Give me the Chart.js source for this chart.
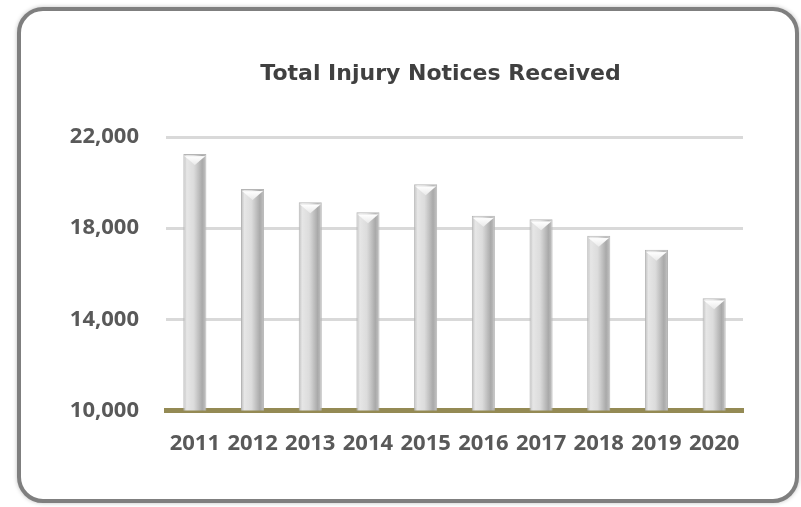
<!DOCTYPE html>
<html lang="en">
<head>
    <meta charset="UTF-8">
    <title>Total Injury Notices Received</title>
    <script src="https://cdn.jsdelivr.net/npm/chart.js"></script>
    <style>
        body {
            margin: 0;
            background: #fff;
        }
        .frame {
            position: absolute;
            left: 17px;
            top: 7px;
            width: 782px;
            height: 496px;
            box-sizing: border-box;
            border: 4px solid #7f7f7f;
            border-radius: 26px;
            box-shadow: 0 0 4px rgba(0, 0, 0, 0.25);
            background: #fff;
        }
        canvas {
            display: block;
        }
    </style>
</head>
<body>
    <div class="frame">
        <canvas id="injuryChart" width="774" height="488"></canvas>
    </div>

    <script>
        // values
        const years = ['2011', '2012', '2013', '2014', '2015', '2016', '2017', '2018', '2019', '2020'];
        const notices = [21250, 19720, 19140, 18700, 19930, 18550, 18390, 17670, 17050, 14930];
        const yMin = 10000;
        const yMax = 22000;
        const yStep = 4000;
        const chartTitle = 'Total Injury Notices Received';

        const tickFont = { family: '"Open Sans", sans-serif', size: 22, weight: 'bold' };

        // silver cylinder look for each bar
        function barFill(c) {
            const chart = c.chart;
            if (!chart.chartArea || !chart.scales.x) return '#d0d0d0';
            const xs = chart.scales.x;
            const cx = xs.getPixelForValue(c.dataIndex);
            const w = xs.width / years.length * 0.4;
            const g = chart.ctx.createLinearGradient(cx - w / 2, 0, cx + w / 2, 0);
            g.addColorStop(0, '#bdbdbd');
            g.addColorStop(0.15, '#e6e6e6');
            g.addColorStop(0.45, '#dcdcdc');
            g.addColorStop(0.55, '#cfcfcf');
            g.addColorStop(0.82, '#a9a9a9');
            g.addColorStop(1, '#c4c4c4');
            return g;
        }

        // bevel triangles at top and bottom of the bars
        const bevelPlugin = {
            id: 'bevel',
            afterDatasetsDraw(chart) {
                const ctx = chart.ctx;
                chart.getDatasetMeta(0).data.forEach(bar => {
                    const l = bar.x - bar.width / 2;
                    const r = bar.x + bar.width / 2;
                    const top = bar.y;
                    const bottom = bar.base;
                    ctx.save();
                    let g = ctx.createLinearGradient(0, top, 0, top + 10);
                    g.addColorStop(0, '#d8d8d8');
                    g.addColorStop(0.3, '#fdfdfd');
                    g.addColorStop(1, '#ececec');
                    ctx.fillStyle = g;
                    ctx.beginPath();
                    ctx.moveTo(l + 1, top + 2);
                    ctx.lineTo(r - 1, top + 2);
                    ctx.lineTo(bar.x, top + 11);
                    ctx.closePath();
                    ctx.fill();
                    g = ctx.createLinearGradient(0, bottom - 10, 0, bottom);
                    g.addColorStop(0, '#e4e4e4');
                    g.addColorStop(1, '#fafafa');
                    ctx.fillStyle = g;
                    ctx.beginPath();
                    ctx.moveTo(l + 2, bottom - 2);
                    ctx.lineTo(r - 2, bottom - 2);
                    ctx.lineTo(bar.x, bottom - 10);
                    ctx.closePath();
                    ctx.fill();
                    ctx.restore();
                });
            }
        };

        // title sits a little left of the plot centre, like the original
        const titlePlugin = {
            id: 'offsetTitle',
            afterDraw(chart) {
                const ctx = chart.ctx;
                const area = chart.chartArea;
                ctx.save();
                ctx.font = 'bold 22px "DejaVu Sans", sans-serif';
                ctx.fillStyle = '#404040';
                ctx.textAlign = 'center';
                ctx.textBaseline = 'alphabetic';
                ctx.fillText(chartTitle, (area.left + area.right) / 2 - 14, 69);
                ctx.restore();
            }
        };

        const ctx = document.getElementById('injuryChart').getContext('2d');
        new Chart(ctx, {
            type: 'bar',
            data: {
                labels: years,
                datasets: [{
                    label: chartTitle,
                    data: notices,
                    backgroundColor: barFill,
                    borderColor: '#b5b5b5',
                    borderWidth: 1,
                    barPercentage: 0.8,
                    categoryPercentage: 0.5
                }]
            },
            options: {
                responsive: false,
                animation: false,
                layout: {
                    padding: { left: 0, right: 52, top: 126, bottom: 0 }
                },
                plugins: {
                    legend: { display: false },
                    tooltip: { enabled: false },
                    title: { display: false }
                },
                scales: {
                    x: {
                        grid: { display: false, drawTicks: false },
                        border: { color: '#948a54', width: 5 },
                        ticks: { color: '#595959', font: tickFont, padding: 20, maxRotation: 0 },
                        afterFit(scale) { scale.height = 88.5; }
                    },
                    y: {
                        min: yMin,
                        max: yMax,
                        grid: { color: '#d9d9d9', lineWidth: 3, drawTicks: false },
                        border: { display: false },
                        ticks: {
                            stepSize: yStep,
                            color: '#595959',
                            font: tickFont,
                            padding: 27,
                            callback: v => v.toLocaleString('en-US')
                        },
                        afterFit(scale) { scale.width = 145; }
                    }
                }
            },
            plugins: [bevelPlugin, titlePlugin]
        });
    </script>
</body>
</html>
